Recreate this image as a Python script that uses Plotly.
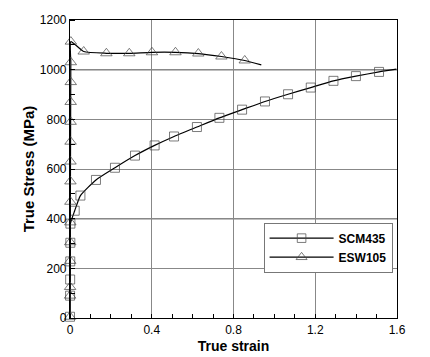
import plotly.graph_objects as go

# ---- data ----
scm_strain = [0.0, 0.0004, 0.0008, 0.0012, 0.0016, 0.002, 0.023, 0.051, 0.127, 0.22, 0.318,
              0.414, 0.509, 0.621, 0.731, 0.842, 0.954, 1.067, 1.178, 1.289, 1.399, 1.512, 1.597]
scm_stress = [5, 90, 155, 228, 303, 380, 432, 493, 556, 605, 654,
              695, 731, 769, 806, 839, 872, 901, 928, 955, 974, 991, 1002]

esw_strain = [0.0, 0.0003, 0.0006, 0.0009, 0.0012, 0.0015, 0.0018, 0.0021, 0.0024, 0.0027,
              0.003, 0.0033, 0.0036, 0.0039, 0.0042, 0.067, 0.178, 0.29, 0.401, 0.516,
              0.628, 0.741, 0.855, 0.936]
esw_stress = [5, 90, 125, 230, 305, 385, 468, 550, 630, 710,
              790, 870, 950, 1030, 1113, 1073, 1066, 1066, 1070, 1070,
              1065, 1053, 1037, 1019]

x_ticks = [0, 0.4, 0.8, 1.2, 1.6]
x_tick_text = ["0", "0.4", "0.8", "1.2", "1.6"]
y_ticks = [0, 200, 400, 600, 800, 1000, 1200]
y_tick_text = ["0", "200", "400", "600", "800", "1000", "1200"]
dark_grid_lines = [400, 1000]

series = [
    ("SCM435", scm_strain, scm_stress, "square-open", 9),
    ("ESW105", esw_strain, esw_stress, "triangle-up-open", 10),
]

fig = go.Figure()
for name, xs, ys, sym, msize in series:
    sizes = [msize] * (len(xs) - 1) + [0]  # curve continues past the last marker
    fig.add_trace(go.Scatter(
        x=xs, y=ys, name=name, mode="lines+markers",
        line=dict(color="black", width=1.2, shape="spline", smoothing=0.5),
        marker=dict(symbol=sym, size=sizes, color="#444",
                    line=dict(color="#444", width=1)),
        cliponaxis=False,
    ))

for yv in dark_grid_lines:
    fig.add_shape(type="line", xref="paper", x0=0, x1=1, yref="y", y0=yv, y1=yv,
                  line=dict(color="black", width=1.2), layer="below")

font_family = "Liberation Sans, Arial, sans-serif"
fig.update_layout(
    width=422, height=349,
    margin=dict(l=62, r=33, t=12, b=39, autoexpand=False),
    paper_bgcolor="white", plot_bgcolor="white",
    font=dict(family=font_family, size=12, color="black"),
    showlegend=True,
    legend=dict(
        x=0.592, y=0.32, xanchor="left", yanchor="top",
        bgcolor="white", bordercolor="#777", borderwidth=1,
        font=dict(size=12, family=font_family, color="black", weight="bold"),
        itemwidth=64, tracegroupgap=0,
    ),
)
fig.update_xaxes(
    range=[0, 1.6], tickvals=x_ticks, ticktext=x_tick_text,
    showgrid=True, gridcolor="#888", gridwidth=1,
    showline=True, linecolor="black", linewidth=1.2, mirror=True,
    ticks="", zeroline=False, automargin=False,
    minor=dict(dtick=0.1, ticks="inside", ticklen=4, tickcolor="black", showgrid=False),
    tickfont=dict(size=12),
    title=dict(text="<b>True strain</b>", font=dict(size=14), standoff=5),
)
fig.update_yaxes(
    range=[0, 1200], tickvals=y_ticks, ticktext=y_tick_text,
    showgrid=True, gridcolor="#888", gridwidth=1,
    showline=True, linecolor="black", linewidth=1.2, mirror=True,
    ticks="", zeroline=False, automargin=False,
    minor=dict(dtick=100, ticks="inside", ticklen=5, tickcolor="black", showgrid=False),
    tickfont=dict(size=12),
    title=dict(text="<b>True Stress (MPa)</b>", font=dict(size=15), standoff=1),
)

fig.write_html("out.html")
